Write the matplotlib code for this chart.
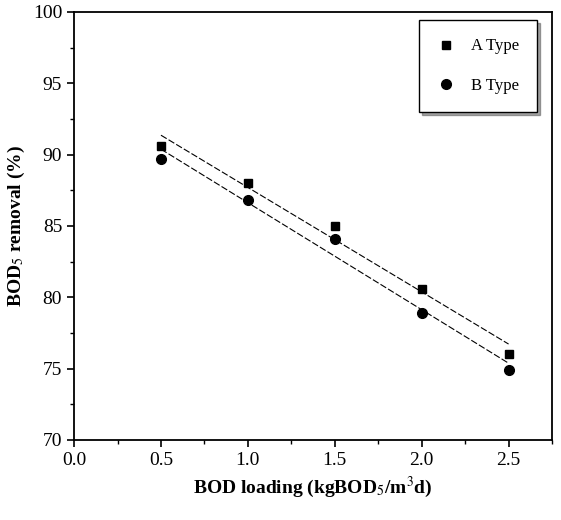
import numpy as np
import matplotlib.pyplot as plt
from matplotlib.ticker import MultipleLocator

plt.rcParams['font.family'] = ['Liberation Serif', 'DejaVu Serif']
plt.rcParams['mathtext.fontset'] = 'stix'

loading = [0.5, 1.0, 1.5, 2.0, 2.5]
a_removal = [90.6, 88.0, 85.0, 80.6, 76.0]
b_removal = [89.7, 86.8, 84.1, 78.9, 74.9]

fig = plt.figure(figsize=(5.61, 5.20), dpi=100)
ax = fig.add_axes([0.132, 0.154, 0.852, 0.823])

ax.plot(loading, a_removal, 's', color='black', markersize=6, label='A Type')
ax.plot(loading, b_removal, 'o', color='black', markersize=7, label='B Type')

# linear fits
for y in (a_removal, b_removal):
    k, b = np.polyfit(loading, y, 1)
    xs = np.array([loading[0], loading[-1]])
    ax.plot(xs, k * xs + b, '--', color='black', lw=0.8, dashes=(6, 2))

ax.set_xlim(0, 2.75)
ax.set_ylim(70, 100)
ax.xaxis.set_major_locator(MultipleLocator(0.5))
ax.xaxis.set_minor_locator(MultipleLocator(0.25))
ax.yaxis.set_major_locator(MultipleLocator(5))
ax.yaxis.set_minor_locator(MultipleLocator(2.5))
ax.tick_params(which='major', direction='out', length=5, width=1.2, labelsize=14)
ax.tick_params(which='minor', direction='out', length=3, width=1)
ax.set_xticks([0, 0.5, 1.0, 1.5, 2.0, 2.5], ['0.0', '0.5', '1.0', '1.5', '2.0', '2.5'])
for s in ax.spines.values():
    s.set_linewidth(1.3)

ax.set_xlabel('BOD loading (kgBOD$_5$/m$^3$d)', fontsize=14, fontweight='bold')
ax.set_ylabel('BOD$_5$ removal (%)', fontsize=14, fontweight='bold')

leg = ax.legend(loc='upper right', bbox_to_anchor=(0.969, 0.981), borderaxespad=0,
                shadow=True, fancybox=False, edgecolor='black', fontsize=12,
                handlelength=1.0, handletextpad=1.0, labelspacing=1.4,
                borderpad=1.1, frameon=True)
leg.get_frame().set_linewidth(1.0)

fig.savefig('out.png', dpi=100)
